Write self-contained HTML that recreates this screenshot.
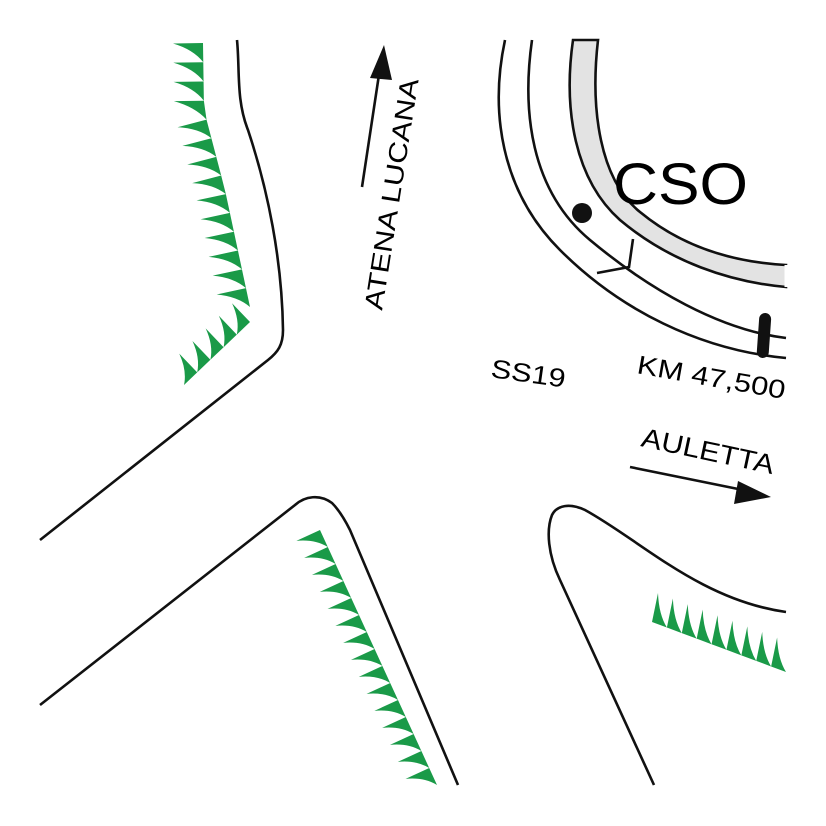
<!DOCTYPE html>
<html><head><meta charset="utf-8"><style>body{margin:0;background:#fff}svg{display:block}</style></head>
<body>
<svg id="s" width="826" height="826" viewBox="0 0 826 826" xmlns="http://www.w3.org/2000/svg" font-family="Liberation Sans, sans-serif">
<g fill="none" stroke="#111" stroke-width="2.6">
<path d="M237,40 C240,70 236,100 248,130 C268,190 282,260 283,330 C283,345 278,352 268,360 L40,540"/>
<path d="M40,705 L295,505 C305,496 320,494 332,503 C338,509 345,520 350,530 L458,785"/>
<path d="M654,785 L560,580 C548,555 546,530 552,515 C557,505 570,503 585,510 C640,540 700,600 786,612"/>
<path d="M505,40 C490,110 500,190 560,250 C620,310 700,350 786,358"/>
<path d="M532,40 C522,110 530,190 590,240 C650,290 720,330 786,338"/>
<path d="M597,273 L629,267 L633,239"/>
</g>
<path d="M573,40 C563,110 575,180 620,220 C670,262 730,282 786,287 L786,265 C730,262 680,245 640,212 C600,180 590,110 598,40 Z" fill="#e3e3e3" stroke="#111" stroke-width="2.6"/>
<path d="M786,287 L786,265" stroke="#fff" stroke-width="3"/>
<circle cx="582" cy="213" r="10" fill="#111"/>
<rect x="758" y="313" width="12" height="45" rx="6" fill="#111" transform="rotate(4 764 335)"/>
<text x="613" y="204" font-size="58" textLength="135" lengthAdjust="spacingAndGlyphs">CSO</text>
<text x="0" y="0" font-size="26" textLength="75" lengthAdjust="spacingAndGlyphs" transform="translate(490,377) rotate(8)">SS19</text>
<text x="0" y="0" font-size="26" textLength="150" lengthAdjust="spacingAndGlyphs" transform="translate(636,373) rotate(10)">KM 47,500</text>
<text x="0" y="0" font-size="26" textLength="234" lengthAdjust="spacingAndGlyphs" transform="translate(382,311) rotate(-81)">ATENA LUCANA</text>
<text x="0" y="0" font-size="27" textLength="135" lengthAdjust="spacingAndGlyphs" transform="translate(640,446) rotate(12)">AULETTA</text>
<line x1="362" y1="187" x2="380" y2="68" stroke="#111" stroke-width="2.6"/>
<polygon points="384,45 370,78 392,80" fill="#111"/>
<line x1="630" y1="467" x2="748" y2="491" stroke="#111" stroke-width="2.6"/>
<polygon points="771,497 738,481 734,504" fill="#111"/>
<g id="teeth" fill="#1a9a48"></g>
</svg>
<script>
function teeth(pts,n,len,side,tipv){
  var L=[0];for(var i=1;i<pts.length;i++){L.push(L[i-1]+Math.hypot(pts[i][0]-pts[i-1][0],pts[i][1]-pts[i-1][1]));}
  var T=L[L.length-1];
  function at(d){for(var i=1;i<pts.length;i++){if(d<=L[i]+1e-6||i==pts.length-1){var f=(d-L[i-1])/(L[i]-L[i-1]);return [pts[i-1][0]+f*(pts[i][0]-pts[i-1][0]),pts[i-1][1]+f*(pts[i][1]-pts[i-1][1]),pts[i][0]-pts[i-1][0],pts[i][1]-pts[i-1][1]];}}}
  var out='';var step=T/n;
  for(var k=0;k<n;k++){
    var a=at(k*step),b=at((k+1)*step);
    var nx,ny;
    if(tipv){nx=tipv[0];ny=tipv[1];}else{var dl=Math.hypot(a[2],a[3]);nx=-a[3]/dl*side*len;ny=a[2]/dl*side*len;}
    var tx=a[0]+nx,ty=a[1]+ny;
    var mx=(tx+b[0])/2,my=(ty+b[1])/2;
    var cx=mx+(a[0]-mx)*0.35,cy=my+(a[1]-my)*0.35;
    out+='<path d="M'+a[0]+','+a[1]+' L'+tx+','+ty+' Q'+cx+','+cy+' '+b[0]+','+b[1]+' Z"/>';
  }
  return out;
}
var g=document.getElementById('teeth');
g.innerHTML=
 teeth([[203,43],[204,110],[225,190],[250,307]],14,30,1)+
 teeth([[250,322],[184,385]],5,26,1)+
 teeth([[320,530],[437,785]],15,26,1)+
 teeth([[652,622],[786,672]],9,0,1,[6,-29]);
</script>
</body></html>
